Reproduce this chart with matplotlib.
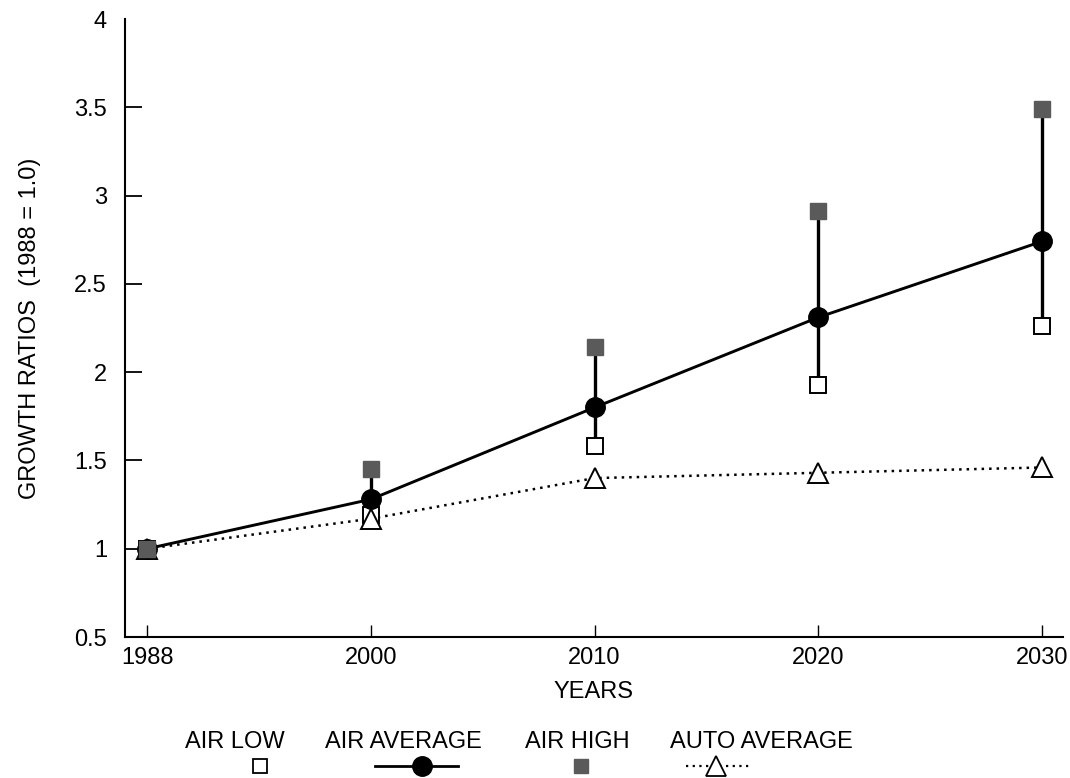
import numpy as np
import matplotlib.pyplot as plt
from matplotlib.lines import Line2D
from matplotlib.ticker import FormatStrFormatter

plt.rcParams['font.family'] = ['Liberation Sans', 'DejaVu Sans']

# Growth ratios relative to 1988
years = ['1988', '2000', '2010', '2020', '2030']
air_low = [1.0, 1.19, 1.58, 1.93, 2.26]
air_avg = [1.0, 1.28, 1.80, 2.31, 2.74]
air_high = [1.0, 1.45, 2.14, 2.91, 3.49]
auto_avg = [1.0, 1.17, 1.40, 1.43, 1.46]

legend_labels = ['AIR LOW', 'AIR AVERAGE', 'AIR HIGH', 'AUTO AVERAGE']

high_grey = '#5a5a5a'
fs = 17

fig = plt.figure(figsize=(10.70, 7.78), dpi=100)
ax = fig.add_axes([125 / 1070, 141 / 778, 938 / 1070, 618 / 778])

x = np.arange(len(years))

# range bars from low to high estimate
ax.vlines(x[1:], air_low[1:], air_high[1:], color='black', lw=2.4, zorder=2)

ax.plot(x, auto_avg, ls=(0, (1, 2.0)), color='black', lw=1.8, zorder=2)
ax.plot(x, air_avg, ls='-', color='black', lw=2.1, zorder=3)

ax.plot(x, air_low, ls='none', marker='s', ms=11, mfc='white', mec='black', mew=1.4, zorder=4)
ax.plot(x, auto_avg, ls='none', marker='^', ms=14, mfc='white', mec='black', mew=1.4, zorder=5)
ax.plot(x, air_avg, ls='none', marker='o', ms=14, mfc='black', mec='black', zorder=6)
ax.plot(x, air_high, ls='none', marker='s', ms=11, mfc=high_grey, mec=high_grey, zorder=7)

ax.set_xlim(-0.1, 4.095)
ax.set_ylim(0.5, 4.0)
ax.set_xticks(x)
ax.set_xticklabels(years)
ax.set_yticks(np.arange(0.5, 4.01, 0.5))
ax.yaxis.set_major_formatter(FormatStrFormatter('%g'))

for side in ['top', 'right']:
    ax.spines[side].set_visible(False)
for side in ['left', 'bottom']:
    ax.spines[side].set_linewidth(1.5)

ax.tick_params(axis='y', direction='in', length=12, width=1.3, pad=13, labelsize=fs)
ax.tick_params(axis='x', direction='in', length=9, width=1.0, pad=7, labelsize=fs)
ax.yaxis.get_major_ticks()[-1].tick1line.set_visible(False)

ax.set_xlabel('YEARS', fontsize=fs, labelpad=9)
ax.set_ylabel('GROWTH RATIOS  (1988 = 1.0)', fontsize=fs, labelpad=24)

# legend row: labels on top, symbols underneath
lax = fig.add_axes([0, 0, 1, 60 / 778])
lax.set_xlim(0, 1070)
lax.set_ylim(60, 0)
lax.axis('off')

label_left = [185, 325, 525, 670]
texts = [lax.text(lx, 24, lab, ha='left', va='center', fontsize=fs)
         for lx, lab in zip(label_left, legend_labels)]

fig.canvas.draw()
inv = lax.transData.inverted()
spans = []
for t in texts:
    bb = t.get_window_extent()
    x0 = inv.transform((bb.x0, bb.y0))[0]
    x1 = inv.transform((bb.x1, bb.y0))[0]
    spans.append((x0, x1))


def at(i, frac):
    x0, x1 = spans[i]
    return x0 + frac * (x1 - x0)


sym_y = 48
lax.plot([at(0, 0.75)], [sym_y], marker='s', ms=10, mfc='white', mec='black', mew=1.3, ls='none')
lax.add_line(Line2D([at(1, 0.32), at(1, 0.85)], [sym_y, sym_y], color='black', lw=2.0))
lax.plot([at(1, 0.62)], [sym_y], marker='o', ms=14, color='black', ls='none')
lax.plot([at(2, 0.54)], [sym_y], marker='s', ms=10, mfc=high_grey, mec=high_grey, ls='none')
lax.add_line(Line2D([at(3, 0.09), at(3, 0.44)], [sym_y, sym_y], color='black', lw=1.6, ls=(0, (1, 2.0))))
lax.plot([at(3, 0.25)], [sym_y], marker='^', ms=14, mfc='white', mec='black', mew=1.3, ls='none')

fig.savefig('out.png', dpi=100)
